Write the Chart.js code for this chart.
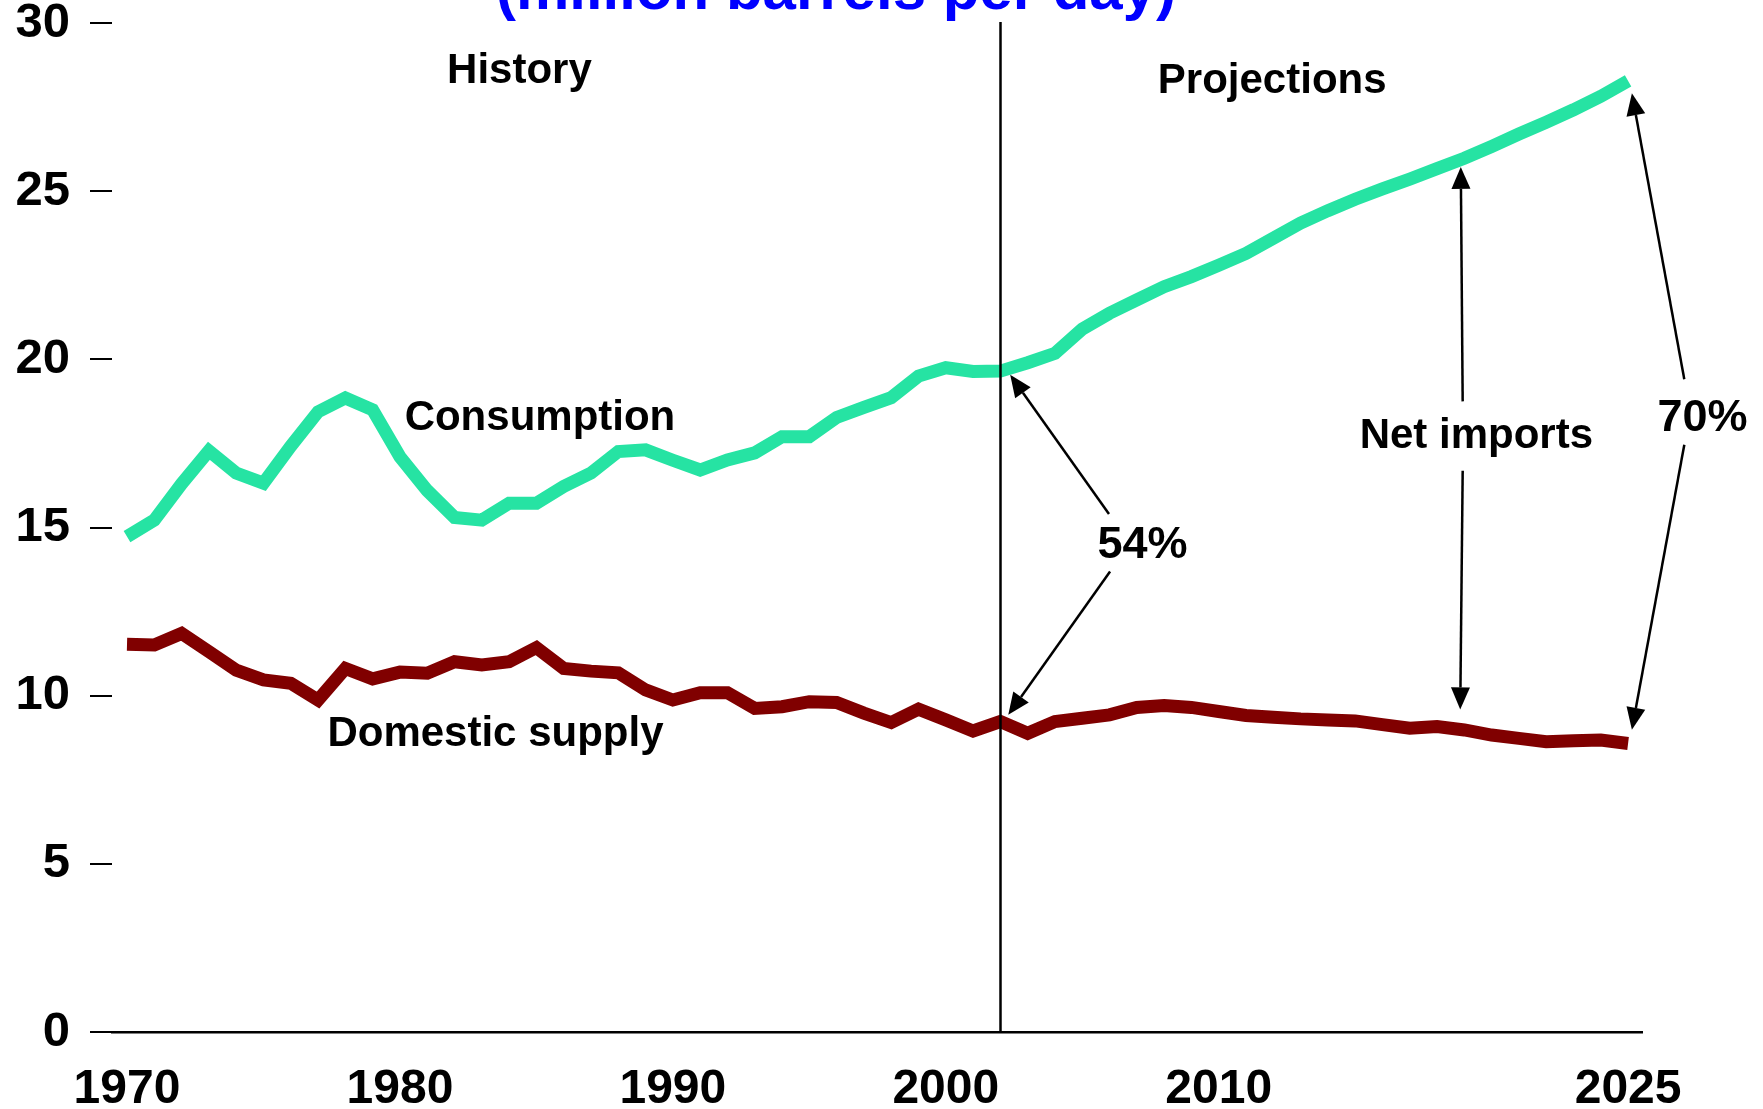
<!DOCTYPE html>
<html>
<head>
<meta charset="utf-8">
<script src="https://cdn.jsdelivr.net/npm/chart.js@4.4.0/dist/chart.umd.min.js"></script>
<style>
html,body{margin:0;padding:0;background:#ffffff;overflow:hidden}
#c{display:block}
</style>
</head>
<body>
<canvas id="c" width="1763" height="1109"></canvas>
<script>
// ---------------- data ----------------
const years = [1970,1971,1972,1973,1974,1975,1976,1977,1978,1979,
               1980,1981,1982,1983,1984,1985,1986,1987,1988,1989,
               1990,1991,1992,1993,1994,1995,1996,1997,1998,1999,
               2000,2001,2002,2003,2004,2005,2006,2007,2008,2009,
               2010,2011,2012,2013,2014,2015,2016,2017,2018,2019,
               2020,2021,2022,2023,2024,2025];

const consumption = [14.73,15.22,16.30,17.28,16.62,16.32,17.42,18.44,18.85,18.50,
                     17.10,16.10,15.30,15.22,15.72,15.72,16.22,16.62,17.26,17.31,
                     17.00,16.71,17.01,17.22,17.70,17.70,18.27,18.57,18.86,19.50,
                     19.75,19.64,19.65,19.90,20.18,20.90,21.37,21.77,22.16,22.46,
                     22.80,23.15,23.60,24.05,24.42,24.76,25.07,25.36,25.67,25.98,
                     26.33,26.70,27.05,27.42,27.82,28.28];

const domesticSupply = [11.53,11.51,11.85,11.31,10.76,10.47,10.37,9.87,10.81,10.50,
                        10.70,10.67,11.01,10.91,11.01,11.43,10.81,10.73,10.68,10.17,
                        9.87,10.09,10.09,9.62,9.67,9.82,9.80,9.48,9.20,9.60,
                        9.28,8.95,9.23,8.88,9.23,9.33,9.43,9.65,9.71,9.65,
                        9.53,9.41,9.36,9.31,9.28,9.25,9.14,9.03,9.08,8.98,
                        8.83,8.73,8.63,8.66,8.68,8.58];

const seriesNames = ['Consumption', 'Domestic supply'];
const xTickYears = [1970, 1980, 1990, 2000, 2010, 2025];
const yTickValues = [0, 5, 10, 15, 20, 25, 30];
const dividerYear = 2002;
const titleText = '(million barrels per day)';

// annotation texts: [text, year, value, fontSize]
const annotationTexts = [
  ['History',         1984.38, 28.22, 42],
  ['Projections',     2011.96, 27.93, 42],
  ['Consumption',     1985.13, 17.90, 42],
  ['Domestic supply', 1983.50,  8.51, 42],
  ['Net imports',     2019.44, 17.35, 42],
  ['54%',             2007.21, 14.09, 45],
  ['70%',             2027.73, 17.86, 45]
];

// arrows: [fromYear, fromValue, tipYear, tipValue]
const arrows = [
  [2005.98, 15.40, 2002.36, 19.54],
  [2006.02, 13.69, 2002.29,  9.43],
  [2018.94, 18.75, 2018.87, 25.72],
  [2018.94, 16.69, 2018.85,  9.59],
  [2027.06, 19.41, 2025.14, 27.91],
  [2027.06, 17.46, 2025.14,  8.99]
];

// ---------------- chart ----------------
const FONT = "'Liberation Sans', Arial, Helvetica, sans-serif";
const GREEN = '#26E3A3';
const DARKRED = '#800000';

const toPoints = (arr) => years.map((yr, i) => ({x: yr, y: arr[i]}));

const annotationPlugin = {
  id: 'annotationPlugin',
  afterDatasetsDraw(chart) {
    const {ctx, scales} = chart;
    const xs = scales.x, ys = scales.y;
    ctx.save();
    // divider line between history and projections
    const dx = Math.round(xs.getPixelForValue(dividerYear)) + 0.5;
    ctx.strokeStyle = '#000';
    ctx.lineWidth = 2.5;
    ctx.beginPath();
    ctx.moveTo(dx, ys.getPixelForValue(30) - 1);
    ctx.lineTo(dx, ys.getPixelForValue(0));
    ctx.stroke();

    // arrows
    ctx.fillStyle = '#000';
    ctx.lineWidth = 2.5;
    arrows.forEach(([fx, fy, tx, ty]) => {
      const x1 = xs.getPixelForValue(fx), y1 = ys.getPixelForValue(fy);
      const x2 = xs.getPixelForValue(tx), y2 = ys.getPixelForValue(ty);
      const ang = Math.atan2(y2 - y1, x2 - x1);
      const headLen = 22, headHalf = 9.5;
      const bx = x2 - headLen * Math.cos(ang), by = y2 - headLen * Math.sin(ang);
      ctx.beginPath();
      ctx.moveTo(x1, y1);
      ctx.lineTo(bx, by);
      ctx.stroke();
      ctx.beginPath();
      ctx.moveTo(x2, y2);
      ctx.lineTo(bx + headHalf * Math.sin(ang), by - headHalf * Math.cos(ang));
      ctx.lineTo(bx - headHalf * Math.sin(ang), by + headHalf * Math.cos(ang));
      ctx.closePath();
      ctx.fill();
    });

    // texts
    ctx.textAlign = 'center';
    ctx.textBaseline = 'alphabetic';
    annotationTexts.forEach(([t, yr, v, size]) => {
      ctx.font = 'bold ' + size + 'px ' + FONT;
      ctx.fillStyle = '#000';
      ctx.fillText(t, xs.getPixelForValue(yr), ys.getPixelForValue(v));
    });

    // title (partly cut off at the top, as in the original)
    ctx.font = 'bold 60px ' + FONT;
    ctx.fillStyle = '#0000FF';
    ctx.fillText(titleText, 836, 9);
    ctx.restore();
  }
};

new Chart(document.getElementById('c'), {
  type: 'line',
  data: {
    datasets: [
      {
        label: seriesNames[0],
        data: toPoints(consumption),
        borderColor: GREEN,
        backgroundColor: GREEN,
        borderWidth: 13,
        pointRadius: 0,
        tension: 0,
        borderCapStyle: 'butt',
        borderJoinStyle: 'miter',
        clip: false
      },
      {
        label: seriesNames[1],
        data: toPoints(domesticSupply),
        borderColor: DARKRED,
        backgroundColor: DARKRED,
        borderWidth: 13,
        pointRadius: 0,
        tension: 0,
        borderCapStyle: 'butt',
        borderJoinStyle: 'miter',
        clip: false
      }
    ]
  },
  options: {
    responsive: false,
    animation: false,
    devicePixelRatio: 1,
    layout: { padding: { top: 23, right: 121, bottom: 0, left: 0 } },
    plugins: {
      legend: { display: false },
      title: { display: false },
      tooltip: { enabled: false }
    },
    scales: {
      x: {
        type: 'linear',
        min: 1969.45,
        max: 2025.51,
        afterBuildTicks: (scale) => { scale.ticks = xTickYears.map(v => ({value: v})); },
        afterFit: (scale) => { scale.height = 77; },
        grid: { display: false },
        border: { display: true, color: '#000', width: 2.5 },
        ticks: {
          color: '#000',
          padding: 26,
          maxRotation: 0,
          autoSkip: false,
          font: { family: FONT, size: 48, weight: 'bold', lineHeight: 1 },
          callback: (v) => String(v)
        }
      },
      y: {
        type: 'linear',
        min: 0,
        max: 30,
        afterBuildTicks: (scale) => { scale.ticks = yTickValues.map(v => ({value: v})); },
        afterFit: (scale) => { scale.width = 112; },
        grid: { display: true, drawOnChartArea: false, drawTicks: true, tickLength: 22, color: '#000', lineWidth: 2 },
        border: { display: false },
        ticks: {
          color: '#000',
          padding: 20,
          font: { family: FONT, size: 49, weight: 'bold', lineHeight: 0.05 },
          callback: (v) => String(v)
        }
      }
    }
  },
  plugins: [annotationPlugin]
});
</script>
</body>
</html>
